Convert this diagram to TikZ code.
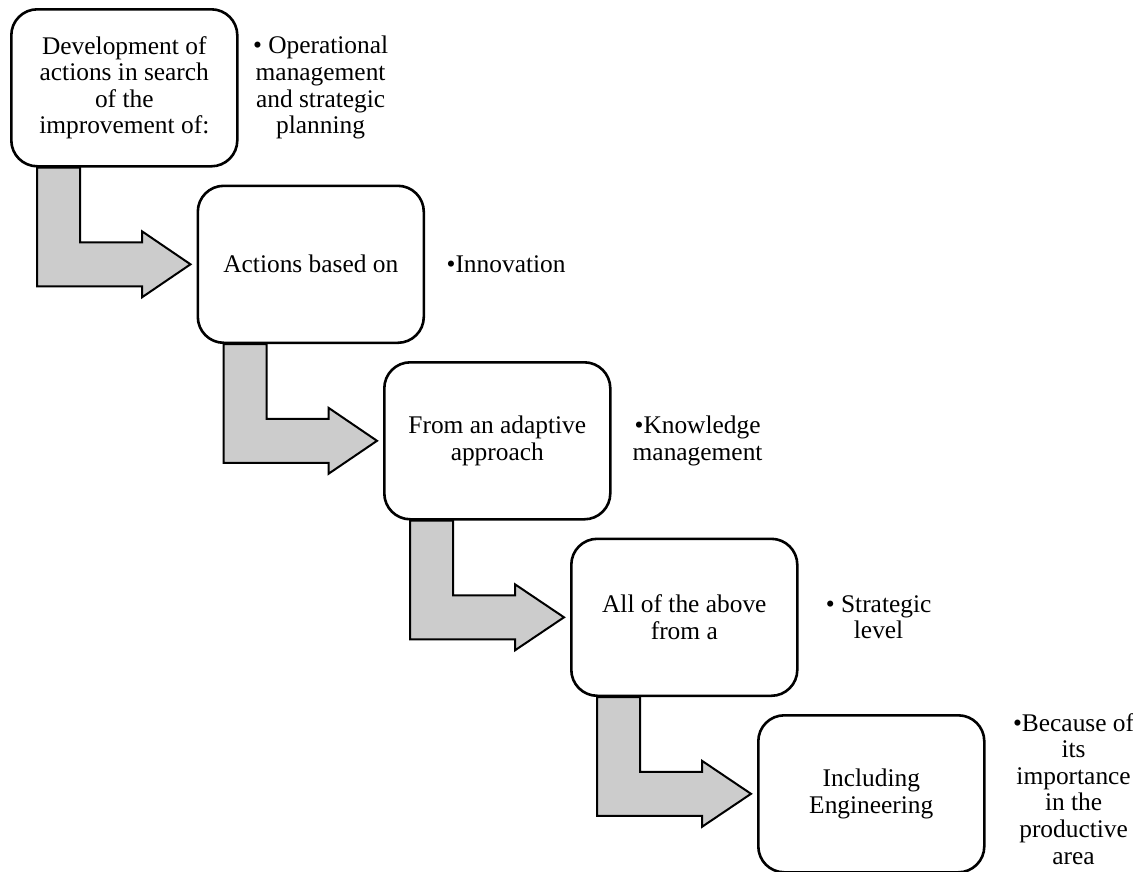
\documentclass[tikz,border=0pt]{standalone}
\usepackage{fontspec}
\setmainfont{Liberation Serif}
\usetikzlibrary{calc,backgrounds}

\tikzset{
  stagebox/.style={draw=black, line width=2.6pt, fill=white, rounded corners=26pt,
    minimum width=226pt, minimum height=157pt, inner sep=0pt, anchor=north west,
    align=center, font=\fontsize{25.4pt}{26.6pt}\selectfont},
  sidenote/.style={inner sep=0pt, align=center, font=\fontsize{25.4pt}{26.6pt}\selectfont},
  bentarrow/.style={draw=black, line width=2pt, fill=black!20, line join=miter}
}

% L-shaped block arrow from the bottom of box #1 to the left side of box #2
\newcommand{\stepjoin}[2]{%
  \draw[bentarrow] let \p1=(#1.south west), \p2=($(#2.west)+(-6pt,0pt)$) in
    (\x1+27pt,\y1) -- (\x1+70pt,\y1) -- (\x1+70pt,\y2+22pt) -- (\x1+132pt,\y2+22pt)
    -- (\x1+132pt,\y2+33pt) -- (\x2,\y2) -- (\x1+132pt,\y2-33pt)
    -- (\x1+132pt,\y2-22pt) -- (\x1+27pt,\y2-22pt) -- cycle;}

\begin{document}
\begin{tikzpicture}[x=1pt, y=-1pt]
  \useasboundingbox (0,0) rectangle (1133,871);

  % stages
  \node[stagebox] (b1) at (10,8)       {Development of\\actions in search\\of the\\improvement of:};
  \node[stagebox] (b2) at (196.5,184.5) {Actions based on};
  \node[stagebox] (b3) at (383,361)     {From an adaptive\\approach};
  \node[stagebox] (b4) at (570,537.5)   {All of the above\\from a};
  \node[stagebox] (b5) at (757,714)     {Including\\Engineering};

  % notes beside each stage
  \node[sidenote] (s1) at ($(b1.east)+(82pt,0pt)$) {• Operational\\management\\and strategic\\planning};
  \node[sidenote] (s2) at ($(b2.east)+(81pt,0pt)$) {•Innovation};
  \node[sidenote] (s3) at ($(b3.east)+(86pt,0pt)$) {•Knowledge\\management};
  \node[sidenote] (s4) at ($(b4.east)+(80pt,0pt)$) {• Strategic\\level};
  \node[sidenote] (s5) at ($(b5.east)+(88pt,5pt)$) {•Because of\\its\\importance\\in the\\productive\\area};

  % connectors behind the boxes
  \begin{scope}[on background layer]
    \stepjoin{b1}{b2}
    \stepjoin{b2}{b3}
    \stepjoin{b3}{b4}
    \stepjoin{b4}{b5}
  \end{scope}
\end{tikzpicture}
\end{document}
